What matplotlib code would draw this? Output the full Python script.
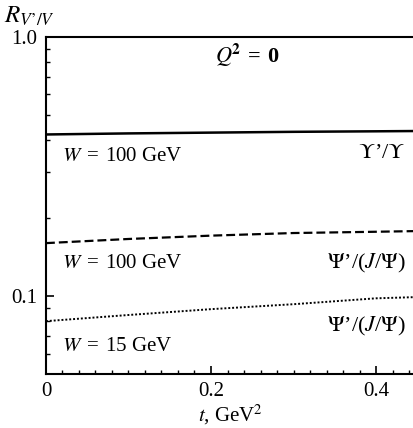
import matplotlib.pyplot as plt
import numpy as np
from matplotlib.ticker import FixedLocator, MultipleLocator, NullFormatter

plt.rcParams['font.family'] = ['Liberation Serif', 'DejaVu Serif']
plt.rcParams['mathtext.fontset'] = 'stix'

# momentum transfer t, GeV^2
t = [0.0, 0.1, 0.2, 0.3, 0.4, 0.446]

# ratio of excited to ground state cross sections
upsilon_w100 = [0.420, 0.424, 0.427, 0.430, 0.432, 0.433]
psi_w100 = [0.160, 0.166, 0.171, 0.175, 0.177, 0.178]
psi_w15 = [0.080, 0.0845, 0.089, 0.093, 0.098, 0.099]

x_ticks = [0, 0.2, 0.4]
x_tick_labels = ['0', '0.2', '0.4']
y_ticks = [0.1, 1.0]
y_tick_labels = ['0.1', '1.0']

EQ = '\u2004=\u2004'
PRIME = '\u2019'


def draw_ratios():
    fig = plt.figure(figsize=(4.14, 4.28), dpi=100)
    ax = fig.add_axes([0.111, 0.126, 0.889, 0.788])

    ax.plot(t, upsilon_w100, color='black', lw=1.8, ls='-')
    ax.plot(t, psi_w100, color='black', lw=1.6, ls=(0, (4, 1.8)))
    ax.plot(t, psi_w15, color='black', lw=1.4, ls=(0, (1, 1)))

    ax.set_yscale('log')
    ax.set_xlim(0, 0.446)
    ax.set_ylim(0.05, 1.0)

    # log axis ticks, inward, minor ones unlabeled
    ax.yaxis.set_major_locator(FixedLocator(y_ticks))
    ax.set_yticklabels(y_tick_labels)
    ax.yaxis.set_minor_locator(FixedLocator(
        [0.06, 0.07, 0.08, 0.09, 0.2, 0.3, 0.4, 0.5, 0.6, 0.7, 0.8, 0.9]))
    ax.yaxis.set_minor_formatter(NullFormatter())
    ax.set_xticks(x_ticks)
    ax.set_xticklabels(x_tick_labels)
    ax.xaxis.set_minor_locator(MultipleLocator(0.02))
    ax.tick_params(which='major', direction='in', length=6, width=1.2,
                   labelsize=15, pad=6)
    ax.tick_params(which='minor', direction='in', length=3, width=1.0)

    ax.spines['right'].set_visible(False)
    for side in ['left', 'bottom', 'top']:
        ax.spines[side].set_linewidth(1.5)

    ax.set_xlabel(r'$t$, GeV$^2$', fontsize=15, labelpad=1)
    fig.text(0.01, 0.962, r'$R_{V' + PRIME + '/V}$', fontsize=18,
             ha='left', va='center')

    # panel and curve annotations
    ax.text(0.205, 0.85, r'$\mathbf{\mathit{Q}}^{\mathbf{2}}$' + EQ + '0',
            fontsize=16, fontweight='bold', ha='left', va='center')
    ax.text(0.02, 0.345, r'$W$' + EQ + '100 GeV', fontsize=15,
            ha='left', va='center')
    ax.text(0.436, 0.355, r'$\Upsilon$' + PRIME + r'/$\Upsilon$', fontsize=16,
            ha='right', va='center')
    ax.text(0.02, 0.133, r'$W$' + EQ + '100 GeV', fontsize=15,
            ha='left', va='center')
    ax.text(0.436, 0.133, r'$\Psi$' + PRIME + r'/($J$/$\Psi$)', fontsize=16,
            ha='right', va='center')
    ax.text(0.02, 0.064, r'$W$' + EQ + '15 GeV', fontsize=15,
            ha='left', va='center')
    ax.text(0.436, 0.076, r'$\Psi$' + PRIME + r'/($J$/$\Psi$)', fontsize=16,
            ha='right', va='center')

    fig.savefig('out.png', dpi=100)


if __name__ == '__main__':
    draw_ratios()
